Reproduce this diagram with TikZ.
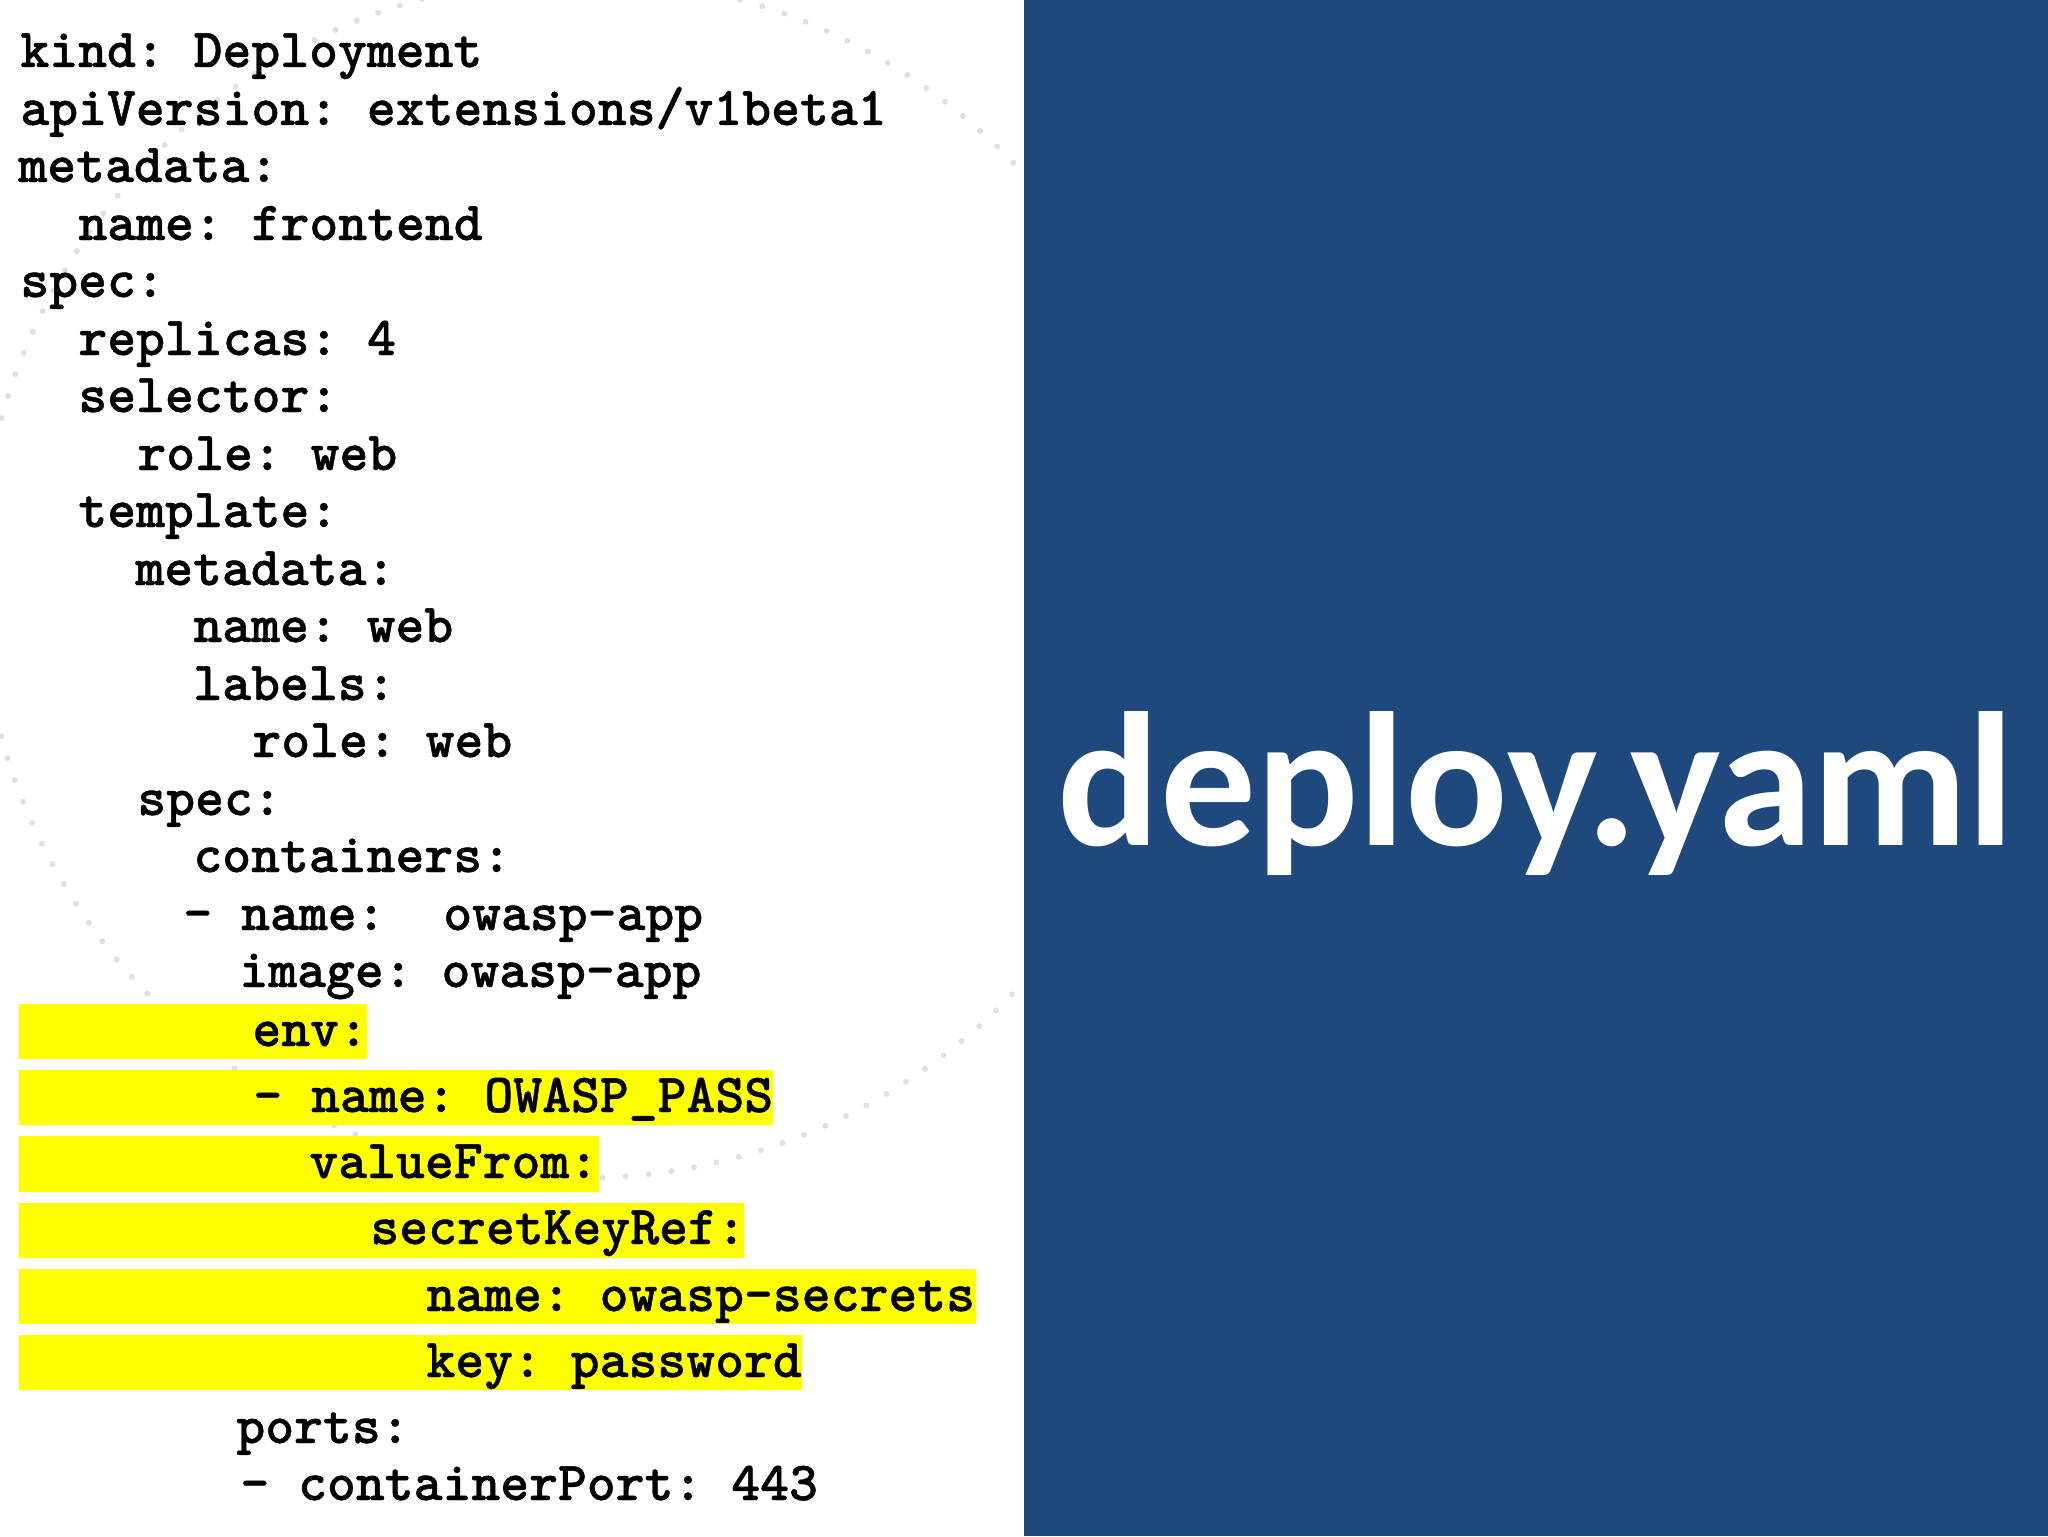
\documentclass[tikz,border=0pt]{standalone}
\usepackage{fontspec}
\setmainfont{Carlito}
\setmonofont{Latin Modern Mono Light}[BoldFeatures={FakeBold=0.8}]
\definecolor{panelblue}{HTML}{1F497D}
\definecolor{hiliteyellow}{HTML}{FFFF00}
\definecolor{ringgray}{HTML}{E0E0E0}
\tikzset{
  codeline/.style={anchor=base west, inner sep=0pt, font=\frenchspacing\ttfamily\bfseries\fontsize{27.5}{27.5}\selectfont},
  hilite/.style={fill=hiliteyellow, draw=none},
  ringdots/.style={draw=ringgray, line width=3pt, line cap=round, dash pattern=on 0pt off 11.5pt}
}
\begin{document}
\begin{tikzpicture}[x=0.5pt, y=-0.5pt]
      \useasboundingbox (0, 0) rectangle (2048, 1536);
      \begin{scope}
      \clip (0, 0) rectangle (1024, 1536);
      \draw[ringdots] (580, 578) circle [radius=600];
      \end{scope}
      \fill[panelblue] (1024, 0) rectangle (2048, 1536);
      \draw[hilite] (19, 1004) rectangle (367, 1059)
                    (19, 1070) rectangle (773, 1125)
                    (19, 1136) rectangle (599, 1192)
                    (19, 1203) rectangle (744, 1258)
                    (19, 1269) rectangle (976, 1324)
                    (19, 1335) rectangle (802, 1390);
      \draw (20, 67) node (kind) [codeline] {kind: Deployment}
            (20, 125) node (apiversion) [codeline] {apiVersion: extensions/v1beta1}
            (18, 182) node (meta) [codeline] {metadata:}
            (78, 240) node (metaname) [codeline] {name: frontend}
            (20, 297) node (spec) [codeline] {spec:}
            (78, 355) node (replicas) [codeline] {replicas: 4}
            (78, 412) node (selector) [codeline] {selector:}
            (137, 470) node (selrole) [codeline] {role: web}
            (78, 527) node (template) [codeline] {template:}
            (135, 585) node (tplmeta) [codeline] {metadata:}
            (193, 642) node (tplname) [codeline] {name: web}
            (193, 700) node (labels) [codeline] {labels:}
            (252, 757) node (labelrole) [codeline] {role: web}
            (137, 815) node (tplspec) [codeline] {spec:}
            (193, 872) node (containers) [codeline] {containers:}
            (183, 930) node (appname) [codeline] {- name:~~owasp-app}
            (239, 987) node (appimage) [codeline] {image: owasp-app}
            (252, 1046) node (env) [codeline] {env:}
            (253, 1112) node (envname) [codeline] {- name: OWASP\_PASS}
            (309, 1178) node (valuefrom) [codeline] {valueFrom:}
            (370, 1244) node (secretref) [codeline] {secretKeyRef:}
            (426, 1311) node (secretname) [codeline] {name: owasp-secrets}
            (426, 1377) node (secretkey) [codeline] {key: password}
            (236, 1443) node (ports) [codeline] {ports:}
            (240, 1500) node (port) [codeline] {- containerPort: 443};
      \draw (1536, 845) node (title) [anchor=base, inner sep=0pt, text=white,
            font=\bfseries\fontsize{95.5}{95.5}\selectfont] {deploy.yaml};
\end{tikzpicture}
\end{document}
